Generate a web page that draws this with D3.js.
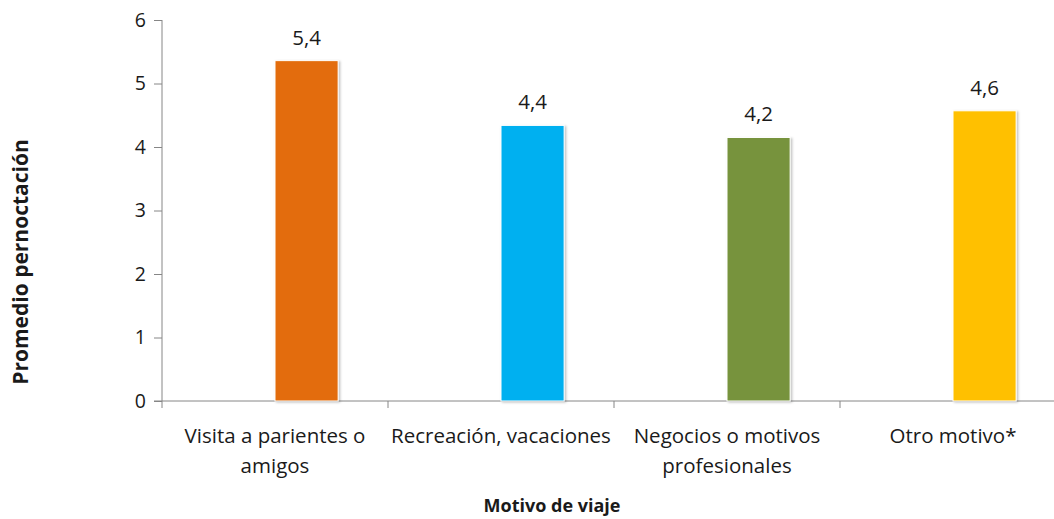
<!DOCTYPE html>
<html>
<head>
<meta charset="utf-8">
<script src="https://cdn.jsdelivr.net/npm/d3@7"></script>
<style>
  body { margin: 0; background: #fff; }
  text { font-family: "Open Sans", "Noto Sans", sans-serif; fill: #1a1a1a; }
</style>
</head>
<body>
<script>
// datos
let motivos = ["Visita a parientes o amigos", "Recreación, vacaciones", "Negocios o motivos profesionales", "Otro motivo*"],
    lineas = [["Visita a parientes o", "amigos"], ["Recreación, vacaciones"], ["Negocios o motivos", "profesionales"], ["Otro motivo*"]],
    promedio = [5.36, 4.34, 4.15, 4.57],
    etiquetas = ["5,4", "4,4", "4,2", "4,6"],
    colores = ["#E36C09", "#00B0F0", "#77933C", "#FFC000"],
    ticksY = [0, 1, 2, 3, 4, 5, 6];

let w = 1054, h = 519,
    mIzq = 162, mDer = 1066, mSup = 20, mInf = 401;

let svg = d3.select("body").append("svg").attr("width", w).attr("height", h)

let x0 = d3.scaleBand().domain(motivos).range([mIzq, mDer])
// excel: serie vacia + serie con valores
let x1 = d3.scaleBand().domain(["vacia", "valor"]).range([0, x0.bandwidth()]).paddingOuter(0.79)
let y = d3.scaleLinear().domain([0, 6]).range([mInf, mSup])

let defs = svg.append("defs")
let f = defs.append("filter").attr("id", "sombra").attr("x", "-20%").attr("y", "-20%").attr("width", "140%").attr("height", "140%")
f.append("feDropShadow").attr("dx", 1.5).attr("dy", 1).attr("stdDeviation", 1.2).attr("flood-color", "#000").attr("flood-opacity", 0.25)

// eje Y
let yAxis = d3.axisLeft(y).tickValues(ticksY).tickSize(8).tickPadding(8).tickFormat(d3.format("d"))
let gy = svg.append("g").attr("transform", "translate(" + mIzq + ",0)").call(yAxis)
gy.select(".domain").attr("stroke", "#868686").attr("d", "M0," + mSup + "V" + (mInf + 7))
gy.selectAll(".tick line").attr("stroke", "#868686")
gy.selectAll(".tick text").attr("font-size", 19.5).attr("fill", "#1a1a1a")
  .style("font-family", "'Open Sans', 'Noto Sans', sans-serif")

// eje X
let gx = svg.append("g").attr("transform", "translate(0," + mInf + ")")
gx.append("line").attr("x1", mIzq - 8).attr("x2", mDer).attr("stroke", "#868686")
gx.selectAll(".tk").data(motivos.slice(1)).enter().append("line")
  .attr("x1", d => x0(d)).attr("x2", d => x0(d)).attr("y2", 7).attr("stroke", "#868686")

// barras
svg.selectAll(".barra").data(motivos).enter().append("rect")
  .attr("class", "barra")
  .attr("x", d => x0(d) + x1("valor"))
  .attr("width", x1.bandwidth())
  .attr("y", (d, i) => y(promedio[i]))
  .attr("height", (d, i) => y(0) - y(promedio[i]))
  .attr("fill", (d, i) => colores[i])
  .attr("stroke", "#fff").attr("stroke-width", 1)
  .attr("filter", "url(#sombra)")

svg.selectAll(".valor").data(motivos).enter().append("text")
  .attr("x", d => x0(d) + x1("valor") + x1.bandwidth() / 2)
  .attr("y", (d, i) => y(promedio[i]) - 16)
  .attr("text-anchor", "middle").attr("font-size", 20.5)
  .text((d, i) => etiquetas[i])

// etiquetas categorias
let cat = svg.selectAll(".cat").data(motivos).enter().append("text")
  .attr("text-anchor", "middle").attr("font-size", 20.5)
  .attr("x", d => x0(d) + x0.bandwidth() / 2)
  .attr("y", mInf + 42)
cat.selectAll("tspan").data((d, i) => lineas[i]).enter().append("tspan")
  .attr("x", function() { return this.parentNode.getAttribute("x") })
  .attr("dy", (d, i) => i ? 30 : 0)
  .text(d => d)

// titulos
svg.append("text").attr("x", 552).attr("y", 512).attr("text-anchor", "middle")
  .attr("font-size", 18).attr("font-weight", "bold").text("Motivo de viaje")
svg.append("text").attr("transform", "translate(28,262) rotate(-90)").attr("text-anchor", "middle")
  .attr("font-size", 21).attr("font-weight", "bold").text("Promedio pernoctación")
</script>
</body>
</html>
